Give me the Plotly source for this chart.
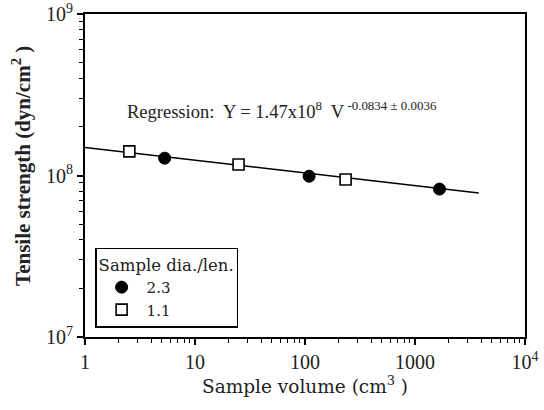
import plotly.graph_objects as go

# Data
vol_23 = [5.3, 109, 1670]
ts_23 = [1.28e8, 0.99e8, 0.824e8]
vol_11 = [2.53, 24.9, 234]
ts_11 = [1.41e8, 1.17e8, 0.944e8]
reg_x = [1, 3800]
reg_y = [1.49e8, 0.78e8]

x_tickvals = [1, 10, 100, 1000, 10000]
x_ticktext = ["1", "10", "100", "1000", "10<sup>4</sup>"]
y_tickvals = [1e7, 1e8, 1e9]
y_ticktext = ["10<sup>7</sup>", "10<sup>8</sup>", "10<sup>9</sup>"]
x_minor = [m * 10 ** d for d in range(4) for m in range(2, 10)]
y_minor = [m * 10 ** d for d in (7, 8) for m in range(2, 10)]

FONT = "Liberation Serif"
LFONT = "DejaVu Serif"
TXT = "#222"

fig = go.Figure()
fig.add_trace(go.Scatter(x=reg_x, y=reg_y, mode="lines",
                         line=dict(color="black", width=1.6), showlegend=False,
                         hoverinfo="skip"))
fig.add_trace(go.Scatter(x=vol_23, y=ts_23, mode="markers", name="2.3",
                         marker=dict(symbol="circle", size=12, color="black",
                                     line=dict(color="black", width=1))))
fig.add_trace(go.Scatter(x=vol_11, y=ts_11, mode="markers", name="1.1",
                         marker=dict(symbol="square", size=11, color="white",
                                     line=dict(color="black", width=1.6))))

axis_common = dict(
    showline=True, linecolor="black", linewidth=2, mirror=True,
    showgrid=False, zeroline=False, ticks="outside", tickcolor="black",
    ticklen=6, tickwidth=1.5, automargin=False, ticklabeloverflow="allow",
    tickfont=dict(family=FONT, size=20, color=TXT),
)

fig.update_xaxes(type="log", range=[0, 4], tickvals=x_tickvals, ticktext=x_ticktext,
                 minor=dict(tickvals=x_minor, ticks="outside", ticklen=4,
                            tickcolor="black", tickwidth=1.2, showgrid=False),
                 **axis_common)
fig.update_yaxes(type="log", range=[7, 9], tickvals=y_tickvals, ticktext=y_ticktext,
                 minor=dict(tickvals=y_minor, ticks="outside", ticklen=4,
                            tickcolor="black", tickwidth=1.2, showgrid=False),
                 **axis_common)

# axis titles as annotations for exact placement
fig.add_annotation(x=0.5, y=-0.148, xref="x domain", yref="y domain",
                   text="Sample volume (cm<sup>3</sup> )", showarrow=False,
                   xanchor="center", yanchor="middle",
                   font=dict(family=LFONT, size=18.5, color=TXT))
fig.add_annotation(x=-0.143, y=0.53, xref="x domain", yref="y domain",
                   text="<b>Tensile strength (dyn/cm<sup>2</sup> )</b>", showarrow=False,
                   textangle=-90, xanchor="center", yanchor="middle",
                   font=dict(family=FONT, size=21, color=TXT))

fig.add_annotation(x=0.091, y=0.703, xref="x domain", yref="y domain",
                   text="Regression:  Y = 1.47x10<sup>8</sup>  V<sup> -0.0834 ± 0.0036</sup>",
                   showarrow=False, xanchor="left", yanchor="middle",
                   font=dict(family=FONT, size=18.5, color=TXT))
fig.add_annotation(x=13.4, y=1.265e8, xref="x", yref="y", text="",
                   showarrow=True, arrowhead=2, arrowsize=1.2, arrowwidth=1.8,
                   arrowcolor="black", ax=-22, ay=-31, axref="pixel", ayref="pixel")

fig.update_layout(
    width=544, height=410,
    margin=dict(l=85, r=19, t=14, b=73),
    paper_bgcolor="white", plot_bgcolor="white",
    showlegend=True,
    legend=dict(
        title=dict(text="Sample dia./len.", font=dict(family=LFONT, size=16.5, color=TXT)),
        font=dict(family=LFONT, size=15, color=TXT),
        x=0.023, y=0.028, xanchor="left", yanchor="bottom",
        bordercolor="black", borderwidth=1.5, bgcolor="white",
        tracegroupgap=0, itemwidth=40,
    ),
)

# remove the default 8px page margin so the figure fills the window
fig.write_html("out.html", config={"displayModeBar": False},
               post_script="document.body.style.margin='0';")
